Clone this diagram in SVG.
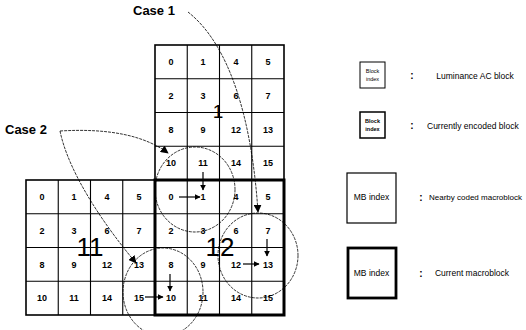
<svg xmlns="http://www.w3.org/2000/svg" width="526" height="330" viewBox="0 0 526 330">
<defs>
<style>
.grid{fill:none;stroke:#000;stroke-width:1.1}
.outer{fill:none;stroke:#000;stroke-width:1.6}
.cur{fill:none;stroke:#000;stroke-width:3}
.n{font-family:"Liberation Sans",Arial,sans-serif;font-size:9px;font-weight:bold;text-anchor:middle;fill:#000}
.big{font-family:"Liberation Sans",Arial,sans-serif;font-size:26px;text-anchor:middle;fill:#000}
.case{font-family:"Liberation Sans",Arial,sans-serif;font-size:13px;font-weight:bold;fill:#000}
.lg{font-family:"Liberation Sans",Arial,sans-serif;font-size:8.5px;fill:#000}
.tiny{font-family:"Liberation Sans",Arial,sans-serif;font-size:5.5px;text-anchor:middle;fill:#000}
.col{font-family:"Liberation Sans",Arial,sans-serif;font-size:10px;font-weight:bold;text-anchor:middle;fill:#000}
.circ{fill:none;stroke:#000;stroke-width:0.8;stroke-dasharray:3 1}
.cv{fill:none;stroke:#000;stroke-width:0.8;stroke-dasharray:3 1}
.ar{fill:none;stroke:#000;stroke-width:1.2}
</style>
<marker id="ah" viewBox="0 0 10 10" refX="9" refY="5" markerWidth="6" markerHeight="6" orient="auto" markerUnits="userSpaceOnUse">
<path d="M0,0 L10,5 L0,10 z" fill="#000"/>
</marker>
<marker id="ah2" viewBox="0 0 10 10" refX="9" refY="5" markerWidth="8" markerHeight="8" orient="auto" markerUnits="userSpaceOnUse">
<path d="M0,0 L10,5 L0,10 z" fill="#000"/>
</marker>
</defs>
<rect width="526" height="330" fill="#fff"/>

<g id="mb1">
<path class="grid" d="M187.25,45V180M219.5,45V180M251.75,45V180M155,78.75H284M155,112.5H284M155,146.25H284"/>
<rect class="outer" x="155" y="45" width="129" height="135"/>
<text class="n" x="171" y="65">0</text><text class="n" x="203" y="65">1</text><text class="n" x="236" y="65">4</text><text class="n" x="268" y="65">5</text>
<text class="n" x="171" y="99">2</text><text class="n" x="203" y="99">3</text><text class="n" x="236" y="99">6</text><text class="n" x="268" y="99">7</text>
<text class="n" x="171" y="133">8</text><text class="n" x="203" y="133">9</text><text class="n" x="236" y="133">12</text><text class="n" x="268" y="133">13</text>
<text class="n" x="171" y="166">10</text><text class="n" x="203" y="166">11</text><text class="n" x="236" y="166">14</text><text class="n" x="268" y="166">15</text>
<text class="big" x="218" y="118" style="font-size:19px">1</text>
</g>

<g id="mb11">
<path class="grid" d="M58.25,180V315M90.5,180V315M122.75,180V315M26,213.75H155M26,247.5H155M26,281.25H155"/>
<rect class="outer" x="26" y="180" width="129" height="135"/>
<text class="n" x="42" y="200">0</text><text class="n" x="74" y="200">1</text><text class="n" x="107" y="200">4</text><text class="n" x="139" y="200">5</text>
<text class="n" x="42" y="234">2</text><text class="n" x="74" y="234">3</text><text class="n" x="107" y="234">6</text><text class="n" x="139" y="234">7</text>
<text class="n" x="42" y="268">8</text><text class="n" x="74" y="268">9</text><text class="n" x="107" y="268">12</text><text class="n" x="139" y="268">13</text>
<text class="n" x="42" y="301">10</text><text class="n" x="74" y="301">11</text><text class="n" x="107" y="301">14</text><text class="n" x="139" y="301">15</text>
<text class="big" x="90" y="256">11</text>
</g>

<g id="mb12">
<path class="grid" d="M187.25,180V315M219.5,180V315M251.75,180V315M155,213.75H284M155,247.5H284M155,281.25H284"/>
<rect class="cur" x="155" y="180" width="129" height="135"/>
<text class="n" x="171" y="200">0</text><text class="n" x="203" y="200">1</text><text class="n" x="236" y="200">4</text><text class="n" x="268" y="200">5</text>
<text class="n" x="171" y="234">2</text><text class="n" x="203" y="234">3</text><text class="n" x="236" y="234">6</text><text class="n" x="268" y="234">7</text>
<text class="n" x="171" y="268">8</text><text class="n" x="203" y="268">9</text><text class="n" x="236" y="268">12</text><text class="n" x="268" y="268">13</text>
<text class="n" x="171" y="301">10</text><text class="n" x="203" y="301">11</text><text class="n" x="236" y="301">14</text><text class="n" x="268" y="301">15</text>
<text class="big" x="220" y="256">12</text>
</g>

<g id="case1"><text class="case" x="133" y="15">Case 1</text></g>
<g id="case2"><text class="case" x="5" y="134">Case 2</text></g>

<g id="connectors">
<ellipse class="circ" cx="195" cy="189.5" rx="40" ry="42.5"/>
<ellipse class="circ" cx="163" cy="292" rx="40" ry="44"/>
<ellipse class="circ" cx="258" cy="255.5" rx="40" ry="42.5"/>
<path class="cv" d="M188,12 C230,45 252,120 258,212" marker-end="url(#ah2)"/>
<path class="cv" d="M60,131 C110,128 145,136 168,153" marker-end="url(#ah2)"/>
<path class="cv" d="M60,131 C68,170 100,220 136,263" marker-end="url(#ah2)"/>
<path class="ar" d="M179,197H200" marker-end="url(#ah)"/>
<path class="ar" d="M203,172V190" marker-end="url(#ah)"/>
<path class="ar" d="M170,274V291" marker-end="url(#ah)"/>
<path class="ar" d="M145,297H163" marker-end="url(#ah)"/>
<path class="ar" d="M267,239V256" marker-end="url(#ah)"/>
<path class="ar" d="M243,264H259" marker-end="url(#ah)"/>
</g>

<g id="legend-luma">
<rect x="360" y="62" width="25" height="26" fill="#fff" stroke="#000" stroke-width="1"/>
<text class="tiny" x="372.5" y="73">Block</text><text class="tiny" x="372.5" y="81">index</text>
<text class="col" x="412" y="79">:</text>
<text class="lg" x="475" y="79" text-anchor="middle">Luminance AC block</text>
</g>
<g id="legend-curblock">
<rect x="360" y="112" width="25" height="26" fill="#fff" stroke="#000" stroke-width="1.5"/>
<text class="tiny" x="372.5" y="123" font-weight="bold">Block</text><text class="tiny" x="372.5" y="131" font-weight="bold">index</text>
<text class="col" x="412" y="129">:</text>
<text class="lg" x="427" y="129">Currently encoded block</text>
</g>
<g id="legend-nearby">
<rect x="347" y="173" width="49" height="50" fill="#fff" stroke="#000" stroke-width="1.2"/>
<text class="lg" x="371.5" y="200" text-anchor="middle">MB index</text>
<text class="col" x="421" y="201">:</text>
<text class="lg" x="429" y="200" style="font-size:8px">Nearby coded macroblock</text>
</g>
<g id="legend-current">
<rect x="348" y="248" width="48" height="50" fill="#fff" stroke="#000" stroke-width="2.8"/>
<text class="lg" x="371.5" y="276" text-anchor="middle">MB index</text>
<text class="col" x="421" y="277">:</text>
<text class="lg" x="472" y="276" text-anchor="middle">Current macroblock</text>
</g>
</svg>
